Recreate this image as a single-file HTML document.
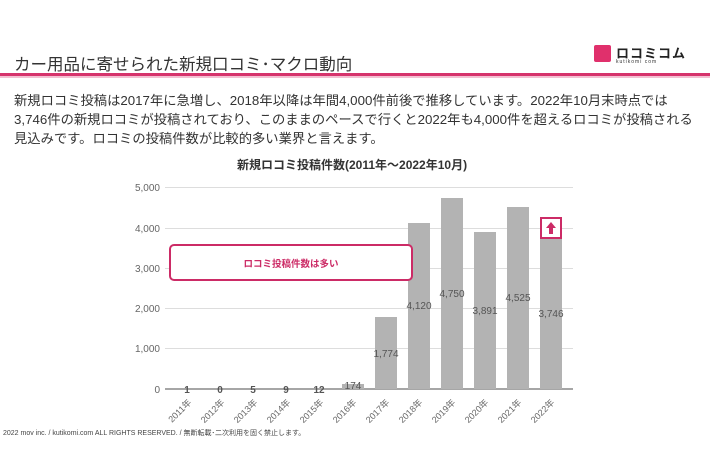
<!DOCTYPE html><html><head><meta charset="utf-8"><style>
body{margin:0;width:710px;height:474px;background:#fff;font-family:"Liberation Sans","Noto Sans CJK JP",sans-serif;overflow:hidden;position:relative}
.t{position:absolute;white-space:nowrap}
</style></head><body>
<div class="t" style="left:14px;top:51px;font-size:16.5px;color:#333">カー用品に寄せられた新規口コミ･マクロ動向</div>
<div style="position:absolute;left:0;top:73px;width:710px;height:3px;background:#d6336c"></div>
<div style="position:absolute;left:0;top:76px;width:710px;height:2px;background:#f3c0d2"></div>
<div style="position:absolute;left:594px;top:45px;width:17px;height:17px;background:#e0306c;border-radius:2px"></div>
<div class="t" style="left:616px;top:43px;font-size:13px;font-weight:bold;color:#222;letter-spacing:1px">ロコミコム</div>
<div class="t" style="left:616px;top:59px;font-size:5px;color:#333;letter-spacing:1px">kutikomi com</div>
<div class="t" style="left:14px;top:91px;font-size:13.3px;color:#333;line-height:19px">新規ロコミ投稿は2017年に急増し、2018年以降は年間4,000件前後で推移しています。2022年10月末時点では<br>3,746件の新規ロコミが投稿されており、このままのペースで行くと2022年も4,000件を超えるロコミが投稿される<br>見込みです。ロコミの投稿件数が比較的多い業界と言えます。</div>
<div class="t" style="left:237px;top:156px;font-size:12px;font-weight:bold;color:#333">新規ロコミ投稿件数(2011年～2022年10月)</div>
<svg width="710" height="474" style="position:absolute;left:0;top:0" font-family="Liberation Sans,Noto Sans CJK JP,sans-serif">
<g stroke="#ddd" stroke-width="1">
<line x1="165" x2="573" y1="187.5" y2="187.5"/><line x1="165" x2="573" y1="228.5" y2="228.5"/><line x1="165" x2="573" y1="268.5" y2="268.5"/><line x1="165" x2="573" y1="308.5" y2="308.5"/><line x1="165" x2="573" y1="348.5" y2="348.5"/></g>
<line x1="165" x2="573" y1="389" y2="389" stroke="#888" stroke-width="1.5"/>
<g font-size="10" fill="#666" text-anchor="end">
<text x="160" y="191">5,000</text><text x="160" y="232">4,000</text><text x="160" y="272">3,000</text><text x="160" y="312">2,000</text><text x="160" y="352">1,000</text><text x="160" y="393">0</text></g>
<g fill="#b3b3b3">
<rect x="342" y="384" width="22" height="5"/>
<rect x="375" y="317" width="22" height="72"/>
<rect x="408" y="223" width="22" height="166"/>
<rect x="441" y="198" width="22" height="191"/>
<rect x="474" y="232" width="22" height="157"/>
<rect x="507" y="207" width="22" height="182"/>
<rect x="540" y="238" width="22" height="151"/>
</g>
<g font-size="10" fill="#555" text-anchor="middle">
<text x="187" y="393" font-weight="bold">1</text><text x="220" y="393" font-weight="bold">0</text><text x="253" y="393" font-weight="bold">5</text><text x="286" y="393" font-weight="bold">9</text><text x="319" y="393" font-weight="bold">12</text><text x="353" y="389">174</text>
<text x="386" y="357">1,774</text><text x="419" y="309">4,120</text><text x="452" y="297">4,750</text><text x="485" y="314">3,891</text><text x="518" y="301">4,525</text><text x="551" y="317">3,746</text></g>
<g font-size="9" fill="#666" text-anchor="end">
<text transform="translate(192,403) rotate(-45)">2011年</text><text transform="translate(225,403) rotate(-45)">2012年</text><text transform="translate(258,403) rotate(-45)">2013年</text><text transform="translate(291,403) rotate(-45)">2014年</text><text transform="translate(324,403) rotate(-45)">2015年</text><text transform="translate(357,403) rotate(-45)">2016年</text><text transform="translate(390,403) rotate(-45)">2017年</text><text transform="translate(423,403) rotate(-45)">2018年</text><text transform="translate(456,403) rotate(-45)">2019年</text><text transform="translate(489,403) rotate(-45)">2020年</text><text transform="translate(522,403) rotate(-45)">2021年</text><text transform="translate(555,403) rotate(-45)">2022年</text></g>
<rect x="170" y="245" width="242" height="35" rx="4" fill="#fff" stroke="#cc2b66" stroke-width="2"/>
<text x="291" y="267" font-size="9.5" font-weight="bold" fill="#cc2b66" text-anchor="middle">ロコミ投稿件数は多い</text>
<rect x="541" y="218" width="20" height="20" fill="#fff" stroke="#cc2b66" stroke-width="2"/>
<path d="M551 222 l-5 6 h3 v6 h4 v-6 h3z" fill="#cc2b66"/>
</svg>
<div class="t" style="left:3px;top:428px;font-size:7px;color:#444">2022 mov inc. / kutikomi.com ALL RIGHTS RESERVED. / 無断転載･二次利用を固く禁止します。</div>
</body></html>
